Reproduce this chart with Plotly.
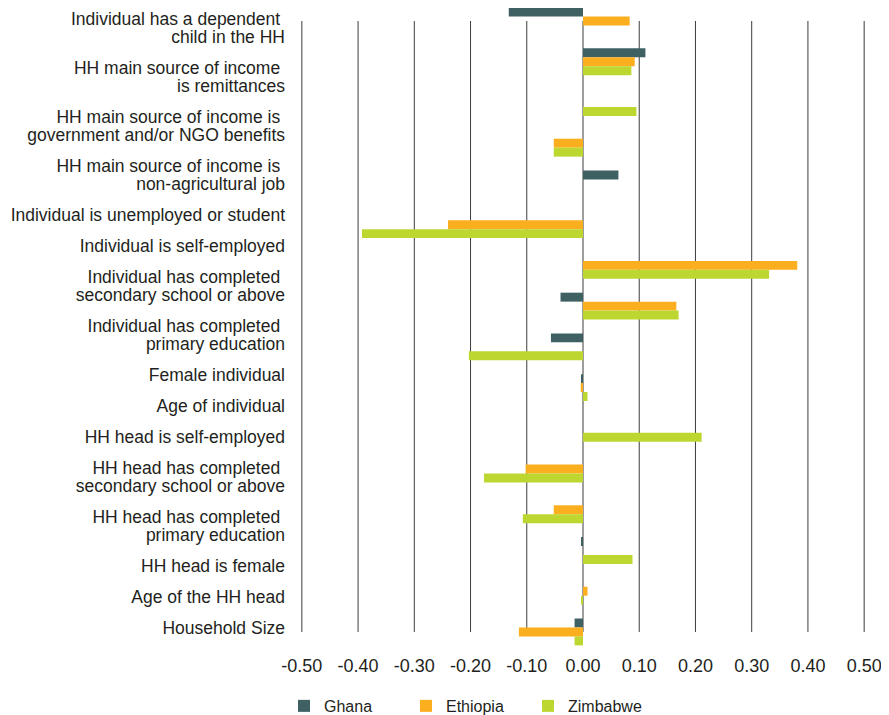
import numpy as np
import plotly.graph_objects as go

# ---- data ----
categories = [
    "Individual has a dependent <br>child in the HH",
    "HH main source of income <br>is remittances",
    "HH main source of income is <br>government and/or NGO benefits",
    "HH main source of income is <br>non-agricultural job",
    "Individual is unemployed or student",
    "Individual is self-employed",
    "Individual has completed <br>secondary school or above",
    "Individual has completed <br>primary education",
    "Female individual",
    "Age of individual",
    "HH head is self-employed",
    "HH head has completed <br>secondary school or above",
    "HH head has completed <br>primary education",
    "HH head is female",
    "Age of the HH head",
    "Household Size",
]
ghana = [-0.132, 0.111, None, None, 0.063, None, None, -0.040,
         -0.057, -0.002, None, None, None, -0.002, None, -0.015]
ethiopia = [0.083, 0.092, None, -0.052, None, -0.240, 0.381, 0.166,
            None, -0.004, None, -0.102, -0.052, None, 0.008, -0.114]
zimbabwe = [None, 0.086, 0.095, -0.052, None, -0.393, 0.331, 0.170,
            -0.203, 0.008, 0.211, -0.176, -0.107, 0.088, -0.002, -0.015]
series_names = ["Ghana", "Ethiopia", "Zimbabwe"]
x_ticks = [-0.50, -0.40, -0.30, -0.20, -0.10, 0.00, 0.10, 0.20, 0.30, 0.40, 0.50]

# ---- style ----
colors = ["#3F6164", "#FBAE1E", "#BDD630"]
FONT = "Liberation Sans, Arial, sans-serif"
TXT = "#231F20"
GRID = "#3c3c3c"

# page has an 8px body margin, so the figure is drawn slightly smaller
W, H = 881, 707
M_L, M_R, M_T, M_B = 293, 24, 0, 65
plot_w = W - M_L - M_R
plot_h = H - M_T - M_B
group_px = 40.73          # pixel spacing between category groups
top_pad_px = 13           # space above first group centre
y_top = -top_pad_px / group_px
y_bot = y_top + plot_h / group_px

pos = np.arange(len(categories))

fig = go.Figure()
for name, vals, col in zip(series_names, [ghana, ethiopia, zimbabwe], colors):
    fig.add_trace(go.Bar(
        x=vals, y=pos, orientation="h", name=name,
        marker=dict(color=col, line=dict(width=0)),
    ))

# category labels laid out as a text block (each line a tick)
first_line_offset_px = -2
intra_px, inter_px = 18, 31
tickvals, ticktext = [], []
cur = first_line_offset_px
for i, lab in enumerate(categories):
    lines = lab.split("<br>")
    for j, ln in enumerate(lines):
        if i > 0 or j > 0:
            cur += intra_px if j > 0 else inter_px
        tickvals.append(cur / group_px)
        ticktext.append(ln.rstrip() + "\u00a0" if ln.endswith(" ") else ln)

# vertical gridlines spanning first to last category
shapes = [dict(type="line", xref="x", yref="y", x0=v, x1=v, y0=pos[0], y1=pos[-1],
               line=dict(color=GRID, width=1), layer="below") for v in x_ticks]

fig.update_layout(
    width=W, height=H,
    margin=dict(l=M_L, r=M_R, t=M_T, b=M_B, pad=0, autoexpand=False),
    paper_bgcolor="white", plot_bgcolor="white",
    barmode="group", bargap=0.34, bargroupgap=0,
    font=dict(family=FONT, size=18, color=TXT),
    shapes=shapes,
    showlegend=True,
    legend=dict(orientation="h", x=-17 / plot_w, xanchor="left", y=-0.0607, yanchor="top",
                font=dict(size=16, color=TXT), traceorder="normal",
                entrywidth=77, entrywidthmode="pixels",
                itemclick=False, itemdoubleclick=False),
    xaxis=dict(range=[-0.5015, 0.5015], tickmode="array", tickvals=x_ticks,
               ticktext=[f"{v:.2f}" for v in x_ticks], showgrid=False,
               zeroline=False, showline=False, ticks="", ticklabelstandoff=3,
               automargin=False, tickfont=dict(size=18, color=TXT)),
    yaxis=dict(range=[y_bot, y_top], tickmode="array", tickvals=tickvals,
               ticktext=ticktext, showgrid=False, zeroline=False, showline=False,
               ticks="", ticklabelstandoff=15, automargin=False,
               tickfont=dict(size=17.5, color=TXT)),
)

fig.write_html("out.html")
